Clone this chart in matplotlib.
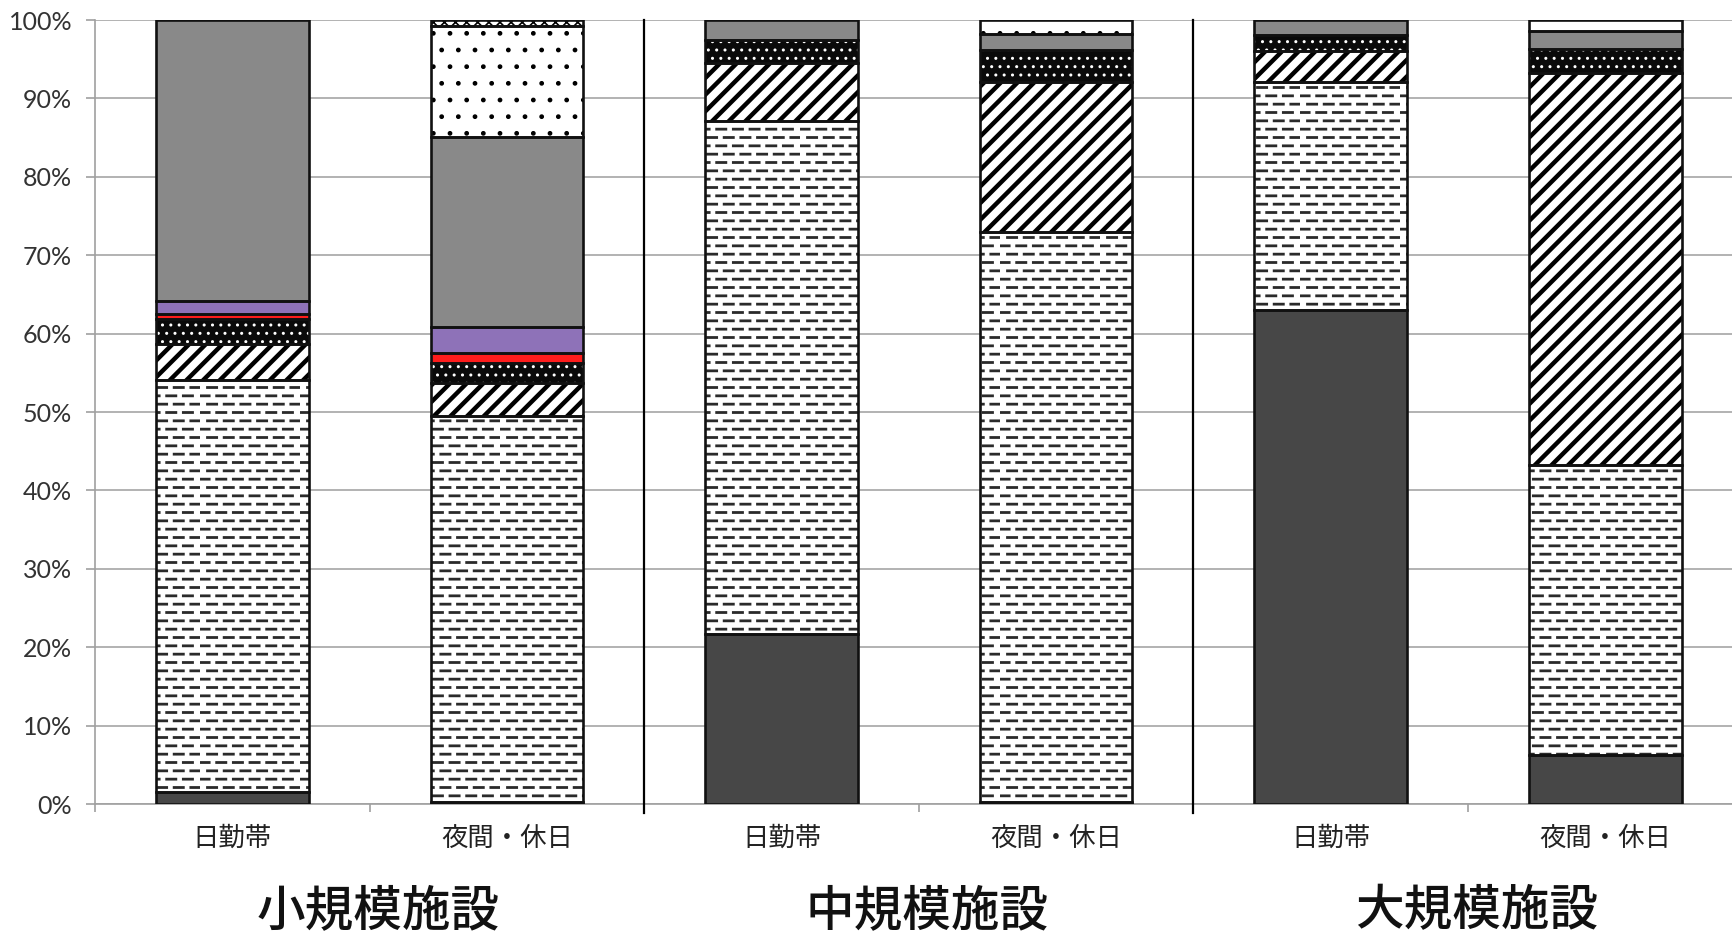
import numpy as np
import matplotlib
matplotlib.use("Agg")
import matplotlib.pyplot as plt
import matplotlib.hatch as mhatch
from matplotlib.path import Path
from matplotlib.ticker import PercentFormatter, FixedLocator

# ---------------- data ----------------
groups = ["小規模施設", "中規模施設", "大規模施設"]
categories = ["日勤帯", "夜間・休日", "日勤帯", "夜間・休日", "日勤帯", "夜間・休日"]

s1_darkgray = [1.5, 0.3, 21.7, 0.3, 63.0, 6.3]
s2_dashes   = [52.6, 49.2, 65.4, 72.6, 29.1, 36.9]
s3_diagonal = [4.6, 4.2, 7.4, 19.2, 3.9, 50.1]
s4_blackdot = [3.2, 2.5, 3.0, 4.1, 2.1, 3.0]
s5_red      = [0.6, 1.3, 0.0, 0.0, 0.0, 0.0]
s6_purple   = [1.7, 3.3, 0.0, 0.0, 0.0, 0.0]
s7_gray     = [35.8, 24.3, 2.5, 2.0, 1.9, 2.3]
s8_dots     = [0.0, 14.1, 0.0, 1.8, 0.0, 1.4]
s9_checker  = [0.0, 0.8, 0.0, 0.0, 0.0, 0.0]

series = [s1_darkgray, s2_dashes, s3_diagonal, s4_blackdot, s5_red,
          s6_purple, s7_gray, s8_dots, s9_checker]

# ---------------- styles ----------------
# (facecolor, hatch, hatch color, hatch linewidth)
styles = [
    ("#474747", None, "#474747", 1.0),
    ("#ffffff", "-", "#2a2a2a", 2.0),
    ("#ffffff", "//", "#000000", 3.2),
    ("#0a0a0a", "..", "#ffffff", 1.0),
    ("#ff1c1c", None, "#ff1c1c", 1.0),
    ("#8e72b8", None, "#8e72b8", 1.0),
    ("#898989", None, "#898989", 1.0),
    ("#ffffff", ".", "#000000", 1.0),
    ("#ffffff", "xxx", "#000000", 1.2),
]


# custom dashed horizontal hatch replacing the plain '-' hatch
class DashHatch(mhatch.HatchPatternBase):
    def __init__(self, hatch, density):
        self.rows = 12 if "-" in hatch else 0
        self.cols = 6
        self.num_vertices = self.rows * self.cols * 2

    def set_vertices_and_codes(self, vertices, codes):
        k = 0
        for r in range(self.rows):
            y = (r + 0.5) / self.rows
            off = 0.45 / self.cols if r % 2 else 0.0
            for c in range(self.cols):
                x0 = c / self.cols + off
                x1 = x0 + 0.55 / self.cols
                vertices[k] = (x0, y)
                vertices[k + 1] = (x1, y)
                codes[k] = Path.MOVETO
                codes[k + 1] = Path.LINETO
                k += 2


try:
    mhatch._hatch_types[0] = DashHatch
except Exception:
    pass

plt.rcParams["font.family"] = ["Noto Sans CJK JP", "DejaVu Sans"]

fig = plt.figure(figsize=(17.32, 9.36), dpi=100)
W, H = 1732, 936
left_px, bottom_px, top_px = 95, 804, 20
cat_w = 274.6
ax = fig.add_axes([left_px / W, 1 - bottom_px / H, 6 * cat_w / W, (bottom_px - top_px) / H])

x = np.arange(len(categories))
bar_w = 0.555
bottom = np.zeros(len(categories))

for vals, (fc, hatch, hc, hlw) in zip(series, styles):
    vals = np.array(vals, dtype=float)
    with plt.rc_context({"hatch.linewidth": hlw}):
        bars = ax.bar(x, vals, bar_w, bottom=bottom, color=fc, edgecolor=hc,
                      hatch=hatch, linewidth=0, zorder=3)
    for b in bars:
        if hasattr(b, "set_hatch_linewidth"):
            b.set_hatch_linewidth(hlw)
    ecs = ["#111111" if v > 0 else "none" for v in vals]
    ax.bar(x, vals, bar_w, bottom=bottom, fill=False, edgecolor=ecs,
           linewidth=1.9, zorder=4)
    bottom += vals

ax.set_xlim(-0.5, 5.5)
ax.set_ylim(0, 100)
ax.yaxis.set_major_locator(FixedLocator(np.arange(0, 101, 10)))
ax.yaxis.set_major_formatter(PercentFormatter(xmax=100, decimals=0))
ax.grid(axis="y", color="#a6a6a6", linewidth=1.2, zorder=0)
ax.set_axisbelow(True)

for sp in ["top", "right"]:
    ax.spines[sp].set_visible(False)
ax.spines["left"].set_color("#a0a0a0")
ax.spines["bottom"].set_color("#a0a0a0")
ax.spines["left"].set_linewidth(1.2)
ax.spines["bottom"].set_linewidth(1.2)

ax.set_xticks(x)
ax.set_xticklabels(categories, fontsize=19)
ax.set_xticks(np.arange(-0.5, 6, 1.0), minor=True)
ax.tick_params(axis="x", which="major", length=0, pad=15)
ax.tick_params(axis="x", which="minor", length=6, color="#a0a0a0", width=1.2)
ax.tick_params(axis="y", length=6.5, color="#a0a0a0", width=1.2, pad=10, labelsize=18)
for lbl in ax.get_yticklabels():
    lbl.set_fontfamily(["Lato", "DejaVu Sans"])
    lbl.set_color("#333333")
for lbl in ax.get_xticklabels():
    lbl.set_color("#222222")

# group separators
for sx in [1.5, 3.5]:
    ax.axvline(sx, ymin=-0.012, ymax=1.0, color="black", linewidth=1.6,
               clip_on=False, zorder=5)

# group labels
for gi, g in enumerate(groups):
    ax.text(2 * gi + 0.53, -0.1365, g, transform=ax.get_xaxis_transform(),
            ha="center", va="center", fontsize=35, fontweight="medium", color="#111111")

fig.savefig("out.png", dpi=100)
